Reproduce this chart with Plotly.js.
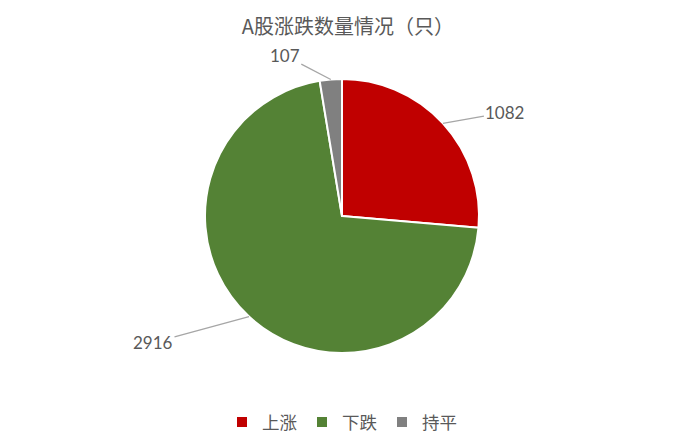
<!DOCTYPE html>
<html>
<head>
<meta charset="utf-8">
<script src="https://cdn.plot.ly/plotly-3.0.1.min.js"></script>
<style>
  html, body { margin: 0; padding: 0; background: #fff; }
  #chart { width: 693px; height: 447px; }
</style>
</head>
<body>
<div id="chart"></div>
<script>
const categories = ['上涨', '下跌', '持平'];
const counts = [1082, 2916, 107];
const sliceColors = ['#C00000', '#548235', '#808080'];
// pixel offsets of each value label from its slice edge
const labelOffsets = [[62, -11], [-96, 26], [-46, -24]];

const W = 693, H = 447;
const margin = { t: 79, b: 94, l: 0, r: 9 };
const plotW = W - margin.l - margin.r;
const plotH = H - margin.t - margin.b;
const radius = Math.min(plotW, plotH) / 2;
const numFont = 'Lato, "Noto Sans", sans-serif';
const cjkFont = '"Noto Sans CJK SC", sans-serif';

const total = counts.reduce((a, b) => a + b, 0);
let start = 0;
const annotations = counts.map((v, i) => {
    const mid = (start + v / 2) / total * 2 * Math.PI;
    start += v;
    return {
        xref: 'paper', yref: 'paper',
        x: 0.5 + radius * Math.sin(mid) / plotW,
        y: 0.5 + radius * Math.cos(mid) / plotH,
        text: String(v),
        showarrow: true, arrowhead: 0, arrowwidth: 1.3, arrowcolor: '#A6A6A6',
        standoff: 0, startstandoff: 0,
        ax: labelOffsets[i][0], ay: labelOffsets[i][1],
        font: { size: 17, color: '#595959', family: numFont }
    };
});

const data = [{
    type: 'pie',
    labels: categories,
    values: counts,
    sort: false,
    direction: 'clockwise',
    rotation: 0,
    textinfo: 'none',
    hoverinfo: 'label+value',
    marker: { colors: sliceColors, line: { color: '#FFFFFF', width: 2 } }
}];

const layout = {
    width: W, height: H,
    margin: margin,
    paper_bgcolor: '#FFFFFF',
    title: {
        text: 'A股涨跌数量情况（只）',
        x: 0.502, xanchor: 'center',
        y: 1 - 27 / H, yanchor: 'middle',
        font: { size: 20, color: '#595959', family: cjkFont }
    },
    showlegend: true,
    legend: {
        orientation: 'h',
        x: 0.5, xanchor: 'center',
        y: -(422 - (H - margin.b)) / plotH, yanchor: 'middle',
        font: { size: 17.5, color: '#595959', family: cjkFont },
        itemwidth: 30, itemsizing: 'constant'
    },
    annotations: annotations
};

Plotly.newPlot('chart', data, layout, { displayModeBar: false, staticPlot: true });
</script>
</body>
</html>
